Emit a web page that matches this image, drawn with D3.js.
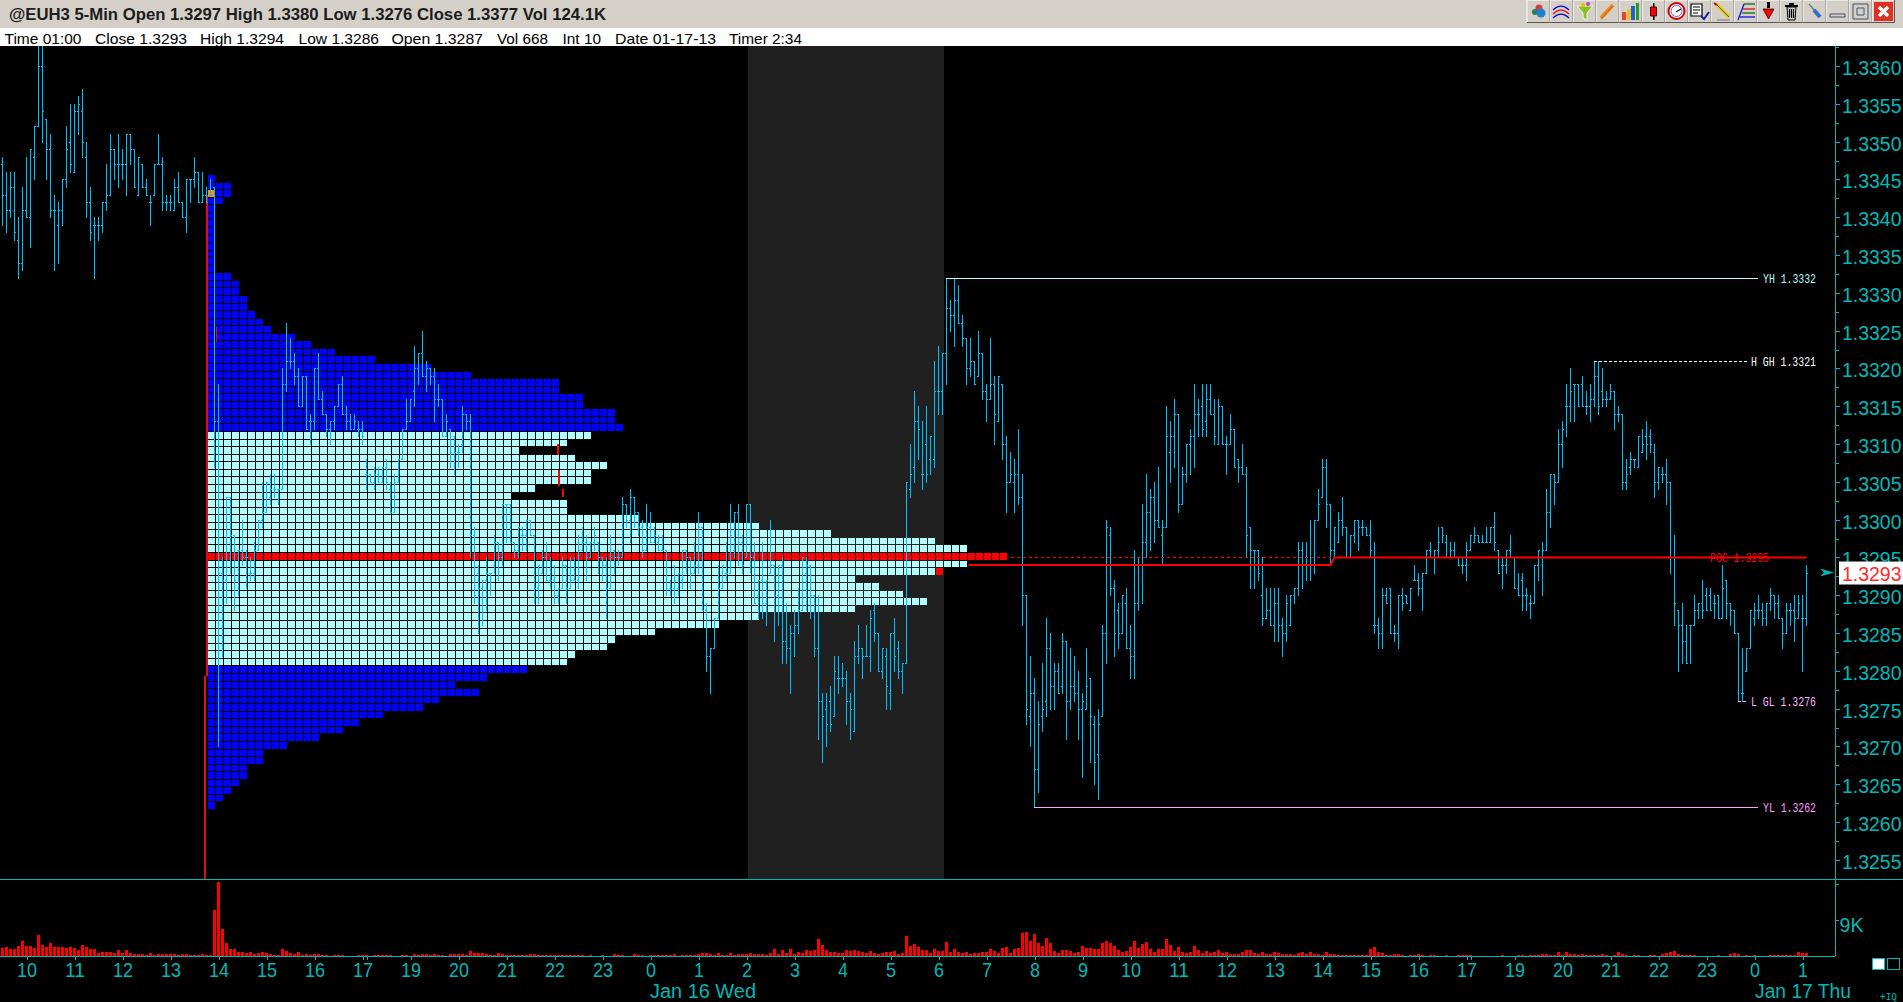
<!DOCTYPE html>
<html><head><meta charset="utf-8">
<style>html,body{margin:0;padding:0;background:#000;overflow:hidden}svg{display:block}</style>
<script src="https://cdn.jsdelivr.net/npm/d3@7"></script></head><body><svg id="c" width="1903" height="1002"></svg>
<script>
// Prices are stored as points above 1.3000 (348 = 1.3348); volumes in thousands of contracts.
const highs=[348,346,346,346,340,344,348,349,352,365,364,353,351,343,342,345,352,355,355,356,357,350,344,340,340,342,347,351,349,351,349,351,351,349,348,347,345,343,347,351,348,343,343,345,346,342,345,345,348,346,346,344,345,344,318,295,303,303,298,296,300,296,295,297,300,305,305,306,306,304,320,326,324,322,320,319,319,314,320,322,317,314,313,315,318,319,315,314,314,313,313,308,306,307,307,307,308,305,306,308,312,316,316,323,322,325,321,320,320,318,316,314,312,311,310,315,314,314,299,294,292,295,293,298,297,302,302,302,297,299,299,300,300,298,294,296,297,295,294,291,295,294,295,295,298,299,298,297,299,297,295,295,298,296,296,303,302,304,303,301,300,302,301,299,298,298,296,292,294,293,296,296,295,297,301,299,289,283,287,294,294,297,302,301,302,298,302,302,297,292,297,292,300,294,294,295,289,286,288,291,295,295,294,290,290,277,277,278,282,282,281,280,277,284,286,283,286,288,289,285,283,283,285,287,284,281,305,310,317,315,313,315,311,321,323,322,332,329,332,331,327,324,324,321,325,322,318,324,319,319,318,311,309,308,312,306,290,282,279,276,281,287,285,281,281,285,284,283,282,280,277,283,279,274,275,286,300,299,292,289,290,291,286,296,295,302,306,304,305,307,300,315,313,316,314,307,310,312,318,316,318,318,318,316,316,315,311,314,312,308,310,307,299,296,296,295,291,291,291,291,287,290,290,291,297,297,297,300,300,304,308,308,302,299,301,303,299,298,300,300,300,299,300,297,287,291,291,291,286,290,291,290,291,294,293,293,296,297,296,299,299,298,297,297,295,295,297,298,299,298,298,299,299,301,296,295,296,298,295,293,293,291,290,294,296,297,304,306,306,312,313,318,320,318,318,319,317,318,321,321,320,317,318,317,315,314,308,309,308,311,312,313,312,310,307,307,308,305,298,288,289,286,286,290,289,292,291,291,290,290,294,292,289,288,285,283,283,288,289,290,289,289,291,290,290,287,289,289,290,290,290,294];
const lows=[339,338,340,337,332,333,340,336,345,352,350,345,340,333,334,339,344,346,346,351,348,340,337,332,337,338,341,343,345,344,345,343,347,344,343,344,343,339,343,347,341,341,341,341,342,340,338,342,344,342,342,342,343,307,270,282,289,293,288,290,294,291,292,292,296,299,301,302,303,302,304,317,320,318,315,315,312,310,312,316,314,311,310,312,315,314,312,312,312,311,310,304,305,304,305,305,304,301,301,305,308,312,313,315,318,319,317,318,313,315,311,311,307,306,307,309,312,295,289,285,286,288,290,293,292,294,297,297,295,295,296,296,298,289,289,293,292,291,289,289,291,289,291,292,291,296,292,295,296,293,292,287,291,293,294,295,299,297,299,298,295,296,297,297,296,296,290,290,289,290,291,293,291,293,293,288,280,277,283,287,291,292,293,295,294,293,295,293,289,287,287,286,293,284,286,281,281,277,282,285,288,288,287,282,271,268,270,272,274,277,278,273,271,272,281,279,282,280,284,280,279,275,275,280,279,277,281,303,305,308,304,305,306,307,314,314,318,325,323,326,323,318,319,318,319,316,313,316,310,313,308,301,305,301,302,286,273,270,262,264,272,274,275,275,277,277,271,275,276,271,266,275,268,265,263,274,281,290,282,283,285,283,279,279,288,289,295,296,297,299,294,299,305,307,301,302,305,306,307,311,311,311,314,310,310,310,306,310,307,305,306,295,291,291,292,286,287,286,284,284,282,284,286,289,290,291,292,292,293,300,303,299,294,295,297,298,295,295,297,296,298,298,295,285,283,283,289,285,284,283,288,289,288,292,290,288,293,295,293,295,297,295,295,295,294,293,292,296,297,297,297,297,297,296,293,291,293,295,291,290,288,288,287,289,292,290,296,299,302,305,307,311,313,313,315,315,314,313,315,314,315,315,316,312,313,304,304,306,307,307,309,308,309,303,304,305,302,293,286,280,281,281,281,286,287,287,288,288,287,287,287,287,286,285,276,276,280,283,286,287,286,286,288,287,287,283,285,286,284,287,280,286];
const opens=[347,343,341,344,337,334,341,340,348,352,360,353,349,341,339,341,345,350,346,354,354,348,342,339,339,339,342,343,349,347,347,347,351,349,343,347,344,342,343,347,347,342,342,341,344,342,340,345,345,346,342,343,343,344,313,293,292,303,298,296,296,295,293,293,296,300,301,303,304,304,304,318,321,321,319,315,319,313,313,320,316,314,312,313,315,318,314,313,312,312,312,306,306,305,306,305,307,304,301,305,308,312,313,317,320,322,319,320,319,316,316,311,312,311,309,310,314,313,298,293,291,292,293,294,297,295,302,302,297,296,298,298,300,298,291,293,295,292,292,290,291,294,291,292,292,296,297,295,297,297,295,294,291,296,295,295,302,300,303,301,299,296,299,297,297,296,296,291,291,291,292,296,295,293,294,299,288,282,283,287,291,293,293,296,301,297,295,302,295,290,292,289,293,294,290,294,284,283,285,286,288,293,294,290,283,276,275,276,274,279,279,279,276,272,282,283,282,282,288,285,280,282,277,285,283,280,281,304,307,313,306,310,308,308,317,317,322,328,327,329,326,324,320,321,319,322,317,316,318,313,318,310,305,305,306,303,290,274,277,267,274,276,283,278,280,278,284,276,278,277,275,275,279,273,269,274,285,298,291,288,285,289,283,282,289,294,297,301,303,300,298,299,309,311,314,302,306,310,311,314,315,313,316,314,310,315,310,310,312,308,307,306,299,296,296,290,287,288,286,289,286,285,286,290,291,296,294,294,295,300,303,307,302,296,297,300,299,295,298,300,299,299,298,286,286,285,290,291,285,285,290,290,288,292,292,291,293,296,295,296,299,297,295,296,295,294,294,296,297,298,297,297,297,299,296,294,294,296,295,291,292,290,289,289,294,295,296,301,306,305,310,315,315,318,318,318,315,315,316,319,317,316,316,317,314,314,305,307,308,307,309,311,311,309,305,306,306,305,295,288,286,284,286,286,288,289,290,290,289,290,287,292,289,288,285,277,280,283,287,288,288,287,289,290,289,287,285,288,288,287,287,287];
const closes=[343,341,344,338,334,341,340,349,352,360,354,349,341,341,341,345,349,347,354,355,350,342,338,339,339,342,343,349,347,347,347,351,349,344,348,344,343,342,347,347,342,342,342,344,342,340,345,345,346,342,343,342,343,313,293,292,303,298,292,296,295,295,293,296,300,301,305,304,304,304,318,321,321,319,315,319,312,313,320,316,314,312,313,315,318,314,313,312,313,312,311,306,305,306,305,307,305,301,305,308,312,313,316,320,322,319,320,319,316,316,311,313,309,309,309,314,313,298,290,291,292,293,293,297,295,302,302,297,296,299,298,300,298,291,294,295,292,292,290,291,294,291,292,292,296,297,295,297,298,295,294,291,295,295,295,302,300,303,301,299,296,299,297,298,296,296,291,291,292,293,296,295,293,294,299,288,282,283,287,291,294,293,298,301,297,294,302,295,289,292,289,292,294,290,294,284,283,285,286,288,295,294,290,283,276,274,273,273,280,279,279,276,275,282,283,282,282,287,285,280,283,278,285,282,280,281,305,306,313,312,306,306,311,317,317,322,328,327,329,326,324,320,321,318,322,317,316,318,314,319,310,305,306,306,303,290,275,277,267,273,275,283,278,280,277,284,276,278,277,275,276,278,274,268,273,285,299,291,285,285,290,283,282,289,294,297,301,303,300,299,299,311,311,314,302,306,310,311,314,314,312,316,314,311,315,310,310,312,307,307,306,298,296,296,293,287,288,286,289,286,285,289,290,291,296,294,294,295,300,302,307,302,296,299,300,299,295,298,300,299,299,298,296,286,285,290,289,285,285,290,289,289,291,292,291,293,296,295,296,297,298,295,296,295,294,294,296,298,298,297,297,297,299,297,293,294,296,295,291,290,290,290,289,294,296,296,301,306,305,310,312,315,317,318,315,315,315,316,319,315,316,316,317,314,314,305,306,308,308,311,310,310,310,305,307,306,305,295,289,286,284,281,286,288,289,288,288,288,289,287,291,289,288,285,276,277,283,288,288,288,287,289,290,289,287,285,288,288,287,289,287,293];
const volumes=[2,2.25,1.75,1.75,2.5,3.75,2.5,2.5,2,5.25,2.75,2.25,3.25,2.25,2.25,2.25,2,2.25,2,1.5,2.75,2.25,1.75,1.75,.75,1,1,1,.75,1.5,.75,1.5,.75,.5,.5,.5,.25,.75,.25,.5,.5,.5,.5,.5,.25,.5,.5,.25,.25,.25,.5,.25,.25,11.5,18.5,6.75,3.25,1.75,1.75,1,1,.75,1,.5,.75,1,.75,.5,.25,.25,1.75,1.25,.75,.5,1,.25,.5,.25,.5,.5,.25,.25,0,.25,.25,.25,0,0,0,.25,.25,.25,0,.25,.25,.25,.25,.25,0,0,.25,.25,0,.5,.25,.5,.5,.25,.5,.25,.25,0,.5,.5,.5,.5,.25,1.25,.75,.75,.75,.5,.25,.25,.75,.5,.25,.25,.25,.25,.25,.25,.5,.5,.25,.25,.25,.25,.25,.25,.25,.25,.25,.25,.25,.25,0,.25,0,0,.25,0,0,.5,.25,.25,0,0,.5,.25,.25,0,.25,.25,.25,.25,.25,.25,.5,0,.25,.25,.25,.25,.5,.75,.75,.5,.25,.75,.25,.25,.75,.25,.5,.5,.5,.75,.5,.5,.5,.25,.75,1.75,.5,1.5,.75,1.75,.5,1,.75,1.5,1.25,1.5,4.25,2.75,1.5,1,1,.75,.75,1.5,1.25,1.5,1.25,1,.75,1.25,.75,.5,.75,1,1,1.25,.5,.75,5,2.5,3,2.25,1.5,1.5,.75,1.75,1.25,1.25,3.5,1,1.75,1,.75,1,.5,.75,.75,1,1,1.75,1.25,.75,2,2.25,.75,1.75,2,5.75,6,3.75,5.5,3.25,2.5,4.5,3.25,1.25,.75,1.5,1.5,1.25,.75,1,2.5,2,2,1.75,1.75,3.25,3.75,3.25,2.5,1.5,1,1.25,2.25,3.75,2,3,3.5,1.75,1,1.75,1.75,4.25,2.75,1.25,2.25,1,.75,1,2.5,1.5,.75,1.25,.75,1,1.5,.75,1,.5,.5,.5,1,1.5,1.5,.75,.5,1,.5,.5,1,.75,.5,.5,.5,.25,.75,1,.5,1,.5,.5,.25,1,.5,.5,.25,.25,.25,.25,.25,.25,.25,.25,1.75,2.25,1,.75,.25,.25,.5,.5,.25,0,.25,.25,.5,.25,0,.25,.25,0,0,.25,0,0,.25,.25,.25,.25,0,0,0,0,0,0,0,.25,0,0,0,.25,.25,0,.25,.25,.25,.5,.5,.25,.25,1,.25,1,.5,.5,.25,.5,.25,.25,.25,.25,.5,.25,0,.25,1,.5,.25,0,.25,.25,0,0,.25,.25,0,.5,.75,1,1.25,.5,.25,.25,.25,.25,0,0,0,0,0,.25,0,0,.5,.75,.5,0,.25,0,.25,0,0,0,.25,.25,.25,.25,.25,.25,.25,1,.75,.75];

const profilePrices=[345,344,343,342,341,340,339,338,337,336,335,334,333,332,331,330,329,328,327,326,325,324,323,322,321,320,319,318,317,316,315,314,313,312,311,310,309,308,307,306,305,304,303,302,301,300,299,298,297,296,295,294,293,292,291,290,289,288,287,286,285,284,283,282,281,280,279,278,277,276,275,274,273,272,271,270,269,268,267,266,265,264,263,262];
const profileCounts=[1,3,3,2,1,1,1,1,1,1,1,1,1,3,4,4,5,5,6,7,8,11,13,16,21,28,33,44,44,47,47,51,51,52,48,45,39,46,50,48,48,41,38,45,45,54,69,78,91,95,100,95,92,81,84,87,90,81,69,64,56,51,50,46,45,40,35,31,34,29,27,22,19,17,14,10,7,7,5,5,4,3,2,1];
const valueAreaHigh=311, valueAreaLow=281, pocPrice=295;

const hourIndex=[6,18,30,42,54,66,78,90,91,102,114,126,138,150,162,174,186,198,210,222,234,246,258,270,282,294,306,318,330,342,354,366,367,378,390,402,414,426,438,450];
const hourLabels=["10","11","12","13","14","15","16","17","","19","20","21","22","23","0","1","2","3","4","5","6","7","8","9","10","11","12","13","14","15","16","17","","19","20","21","22","23","0","1"];
const priceLabels=[1.3360,1.3355,1.3350,1.3345,1.3340,1.3335,1.3330,1.3325,1.3320,1.3315,1.3310,1.3305,1.3300,1.3295,1.3290,1.3285,1.3280,1.3275,1.3270,1.3265,1.3260,1.3255];
const lastPrice=1.3293;
const titleText="@EUH3 5-Min Open 1.3297 High 1.3380 Low 1.3276 Close 1.3377 Vol 124.1K";
const infoItems=["Time 01:00","Close 1.3293","High 1.3294","Low 1.3286","Open 1.3287","Vol 668","Int 10","Date 01-17-13","Timer 2:34"];
const levelNames=["YH 1.3332","H GH 1.3321","L GL 1.3276","YL 1.3262"];
const levelPrices=[332,321,276,262];
const levelFrom=[236,398,434,258];
const levelTo=[439,436.4,436.4,439];
const levelColors=["#b4ffff","#ffffff","#ffb4ff","#ff9cff"];
const pocPathIndex=[241.5,332,333,451];
const pocPathPrice=[294,294,295,295];

const CYAN="#00bfff", TEAL="#00b8b8", RED="#ff0000", LIGHT="#b4ffff", BLUE="#0000ff";
const svg=d3.select("#c");
const px=t=>1.3+t/10000;
const x=d3.scaleLinear().domain([0,451]).range([2,1806]);
const y=d3.scaleLinear().domain([1.3360,1.3260]).range([66,822]);
const vy=d3.scaleLinear().domain([0,9]).range([956,920]);
const col=d3.scaleLinear().domain([0,100]).range([208,1008]);
const font="'Liberation Sans',Arial,sans-serif";

svg.append("rect").attr("width",1903).attr("height",1002).attr("fill","#000");
// title bars
svg.append("rect").attr("width",1903).attr("height",28).attr("fill","#d4d0c8");
svg.append("rect").attr("y",28).attr("width",1903).attr("height",18).attr("fill","#fff");
svg.append("text").attr("x",9).attr("y",20).attr("font-family",font).attr("font-size",16).attr("font-weight","bold").attr("fill","#1c1c1c").attr("textLength",597).attr("lengthAdjust","spacingAndGlyphs").text(titleText);
const infoX=[4.5,95,200,298.5,391.5,497,562.5,615,729], infoW=[77,92,84,80.5,91.5,51,38.5,101,73];
svg.selectAll("text.info").data(infoItems).join("text").attr("class","info").attr("x",(d,i)=>infoX[i]).attr("y",43.5).attr("font-family",font).attr("font-size",15).attr("fill","#000").attr("textLength",(d,i)=>infoW[i]).attr("lengthAdjust","spacingAndGlyphs").text(d=>d);

// toolbar
const btn=svg.append("g");
d3.range(16).forEach(i=>{const b=btn.append("g").attr("transform",`translate(${1527+23*i},0)`);
 b.append("rect").attr("width",23).attr("height",23).attr("fill","#d4d0c8");
 b.append("path").attr("d","M0 22V0H22").attr("stroke","#fff").attr("fill","none");
 b.append("path").attr("d","M22.5 0V22.5H0").attr("stroke","#555").attr("fill","none");
 const L=(d,c,w=1.2,f="none")=>b.append("path").attr("d",d).attr("stroke",c).attr("stroke-width",w).attr("fill",f);
 const R=(a,t,w,h,c)=>b.append("rect").attr("x",a).attr("y",t).attr("width",w).attr("height",h).attr("fill",c);
 const C=(a,t,r,c,s="none",w=1)=>b.append("circle").attr("cx",a).attr("cy",t).attr("r",r).attr("fill",c).attr("stroke",s).attr("stroke-width",w);
 if(i==0){C(8,12,3,"#2a7a5a");C(12,8,3.5,"#d04040");C(14,13,4.5,"#2080d0");}
 if(i==1){L("M3 10Q11 2 19 10","#0000e0");L("M3 14Q11 6 19 14","#e01010");L("M3 18Q11 10 19 18","#0000e0");}
 if(i==2){L("M4 6H20L14 13V20L10 18V13Z","#e8f8e8",1,"#90c020");C(10,5,2,"#e0c000");C(15,4,2,"#c040c0");}
 if(i==3){L("M5 18L17 5","#f08820",4);L("M5 19L17 6","#a04000",.6);L("M4 20H12","#bbb",1);}
 if(i==4){R(3,12,4,8,"#f04030");R(8,9,4,11,"#f0c020");R(12,6,4,14,"#2060d0");R(17,3,3,17,"#20a020");}
 if(i==5){R(11,3,1.5,17,"#000");R(8.5,7,6,9,"#ff0000");L("M8.5 7h6v9h-6z","#000",.8);}
 if(i==6){C(11.5,11,8,"#fff","#d00000",2);C(11.5,11,5.5,"#fff","#0000c0",.6);L("M11 12L16 9","#000",1.2);}
 if(i==7){R(3,4,11,12,"#fff");L("M3 4h11v12h-11z","#000");L("M5 7h7M5 10h7M5 13h5","#000");L("M13 16l3 3 5-7","#1020a0",2);}
 if(i==8){L("M5 4L18 17","#e8d020",4);L("M5 4L18 17","#000",.6);L("M3 3L6 5","#c00000",2);L("M6 20H19","#888");}
 if(i==9){L("M4 20L10 4","#0000e0");L("M10 4H21","#006000");L("M9 9H21","#d00000");L("M8 13H21","#006000");L("M6 17H21","#0000e0");}
 if(i==10){R(10,2,3,6,"#000");L("M6 9H17L11.5 19Z","#000",.7,"#ff0000");}
 if(i==11){L("M7 7H16L15 20H8Z","#000",1,"#ccc");R(5,5,13,2,"#000");R(9,3,5,2,"#000");L("M9.5 9V18M11.5 9V18M13.5 9V18","#000");}
 if(i==12){L("M6 4L12 11","#708090",1.6);L("M11 10L17 17","#3070d0",4);}
 if(i==13){L("M4 14H19V17H4Z","#405070",1,"#d4d0c8");}
 if(i==14){L("M4 4H19V19H4Z","#405070",1);L("M8 8H15V15H8Z","#405070",1);}
 if(i==15){R(2,2,19,19,"#e03020");L("M7 7L16 16M16 7L7 16","#fff",3.5);}
});

const chart=svg.append("g");
const clip=svg.append("clipPath").attr("id","plot").append("rect").attr("x",0).attr("y",46).attr("width",1835).attr("height",833);
// overnight shaded band (2:00 to 6:00 hours)
chart.append("rect").attr("x",x(186.5)).attr("y",46).attr("width",x(235.5)-x(186.5)).attr("height",833).attr("fill","#202020");

// volume profile
const cells=[];
profilePrices.forEach((p,i)=>d3.range(profileCounts[i]).forEach(k=>cells.push({p,k,last:k==profileCounts[i]-1})));
chart.append("g").selectAll("rect").data(cells).join("rect")
 .attr("x",d=>col(d.k)).attr("width",7).attr("y",d=>Math.round(y(px(d.p))-4.4)).attr("height",d=>Math.round(y(px(d.p))-4.4+7.56)-Math.round(y(px(d.p))-4.4)-1)
 .attr("shape-rendering","crispEdges")
 .attr("fill",d=>{
   if(d.p==pocPrice) return RED;
   if(d.p==293&&d.last) return RED;
   if(d.p==343&&d.k==0) return "#ff8c1a";
   return d.p<=valueAreaHigh&&d.p>=valueAreaLow?LIGHT:BLUE;});

// red marker lines on the profile
const markCol=[1,43.6,43.8,44.2], markHi=[325.5,310,306.5,304], markLo=[323.5,308.5,304.5,303];
chart.append("g").selectAll("rect").data(markCol).join("rect").attr("x",d=>col(d)).attr("width",(d,i)=>i?2:1).attr("y",(d,i)=>y(px(markHi[i]))).attr("height",(d,i)=>y(px(markLo[i]))-y(px(markHi[i]))).attr("fill",RED).attr("shape-rendering","crispEdges");
// session open vertical
chart.append("rect").attr("x",205.5).attr("y",y(px(343))).attr("width",2).attr("height",676-y(px(343))).attr("fill","#e01010").attr("shape-rendering","crispEdges");
chart.append("rect").attr("x",204).attr("y",676).attr("width",2).attr("height",203).attr("fill","#e01010").attr("shape-rendering","crispEdges");

// OHLC bars
const bars=chart.append("g").attr("clip-path","url(#plot)").attr("fill",CYAN).attr("shape-rendering","crispEdges");
bars.selectAll("path").data(highs).join("path").attr("d",(h,i)=>{
 const X=Math.round(x(i)),t=Math.round(y(px(h))),b=Math.round(y(px(lows[i]))),o=Math.round(y(px(opens[i]))),c=Math.round(y(px(closes[i])));
 return `M${X} ${t}h1v${b-t+1}h-1zM${X-1} ${o}h1v1h-1zM${X+1} ${c}h1v1h-1z`;});

// volume
chart.append("g").attr("shape-rendering","crispEdges").selectAll("rect").data(volumes).join("rect")
 .attr("x",(d,i)=>Math.round(x(i))-1).attr("width",3).attr("y",d=>vy(d)).attr("height",d=>956-vy(d)).attr("fill",RED);

// labels for POC under its line
const mono="'Liberation Mono','DejaVu Sans Mono',monospace";
chart.append("text").attr("x",1710).attr("y",y(px(295))+5).attr("font-family",mono).attr("font-size",13).attr("fill",RED).attr("textLength",59).attr("lengthAdjust","spacingAndGlyphs").text("POC 1.3295");
// POC lines
const line=d3.line().x(d=>x(d[0])+.5).y(d=>y(px(d[1])));
chart.append("path").attr("d",line(pocPathIndex.map((d,i)=>[d,pocPathPrice[i]]))).attr("fill","none").attr("stroke",RED).attr("stroke-width",2);
chart.append("path").attr("d",line([[252,295],[332,295]])).attr("fill","none").attr("stroke",RED).attr("stroke-width",1).attr("stroke-dasharray","3 3").attr("shape-rendering","crispEdges");
// levels
levelNames.forEach((n,i)=>{
 const Y=Math.round(y(px(levelPrices[i])))+.5;
 chart.append("line").attr("x1",x(levelFrom[i])).attr("x2",x(levelTo[i])).attr("y1",Y).attr("y2",Y).attr("stroke",levelColors[i]).attr("stroke-dasharray",(i==1||i==2)?"3 2":null).attr("shape-rendering","crispEdges");
 const tx=(i==1||i==2)?1751:1763;
 chart.append("text").attr("x",tx).attr("y",Y+4.5).attr("font-family",mono).attr("font-size",13).attr("fill",levelColors[i]).attr("textLength",(i==1||i==2)?65:53).attr("lengthAdjust","spacingAndGlyphs").text(n);
});

// axes
const fmt=d=>d.toFixed(4);
const yAxis=d3.axisRight(y).tickValues(priceLabels).tickSize(4).tickFormat(fmt);
const ga=svg.append("g").attr("transform","translate(1835.5,0)").call(yAxis);
ga.select(".domain").remove();
ga.selectAll("line").attr("stroke",TEAL).attr("shape-rendering","crispEdges");
ga.selectAll("text").attr("x",6.5).attr("dy","0.42em").attr("font-family",font).attr("font-size",20).attr("fill",TEAL).attr("textLength",59.5).attr("lengthAdjust","spacingAndGlyphs").attr("text-anchor","start");
const minor=priceLabels.map(p=>p+0.00025);
const gm=svg.append("g").attr("transform","translate(1835.5,0)").call(d3.axisRight(y).tickValues(minor).tickSize(3).tickFormat(""));
gm.select(".domain").remove();
gm.selectAll("line").attr("stroke",TEAL).attr("shape-rendering","crispEdges");

const xAxis=d3.axisBottom(x).tickValues(hourIndex).tickSize(4).tickFormat((d,i)=>hourLabels[i]);
const gx=svg.append("g").attr("transform","translate(0.5,956)").call(xAxis);
gx.select(".domain").remove();
gx.selectAll("line").attr("stroke",TEAL).attr("shape-rendering","crispEdges");
gx.selectAll("text").attr("y",21).attr("dy",0).attr("font-family",font).attr("font-size",21).attr("fill",TEAL).each(function(d,i){const n=hourLabels[i].length;if(n)d3.select(this).attr("textLength",n*10).attr("lengthAdjust","spacingAndGlyphs");});

const vAxis=d3.axisRight(vy).tickValues([9,18]).tickSize(3).tickFormat(d=>d==9?"9K":"");
const gv=svg.append("g").attr("transform","translate(1835.5,0)").call(vAxis);
gv.select(".domain").remove();
gv.selectAll("line").attr("stroke",TEAL).attr("shape-rendering","crispEdges");
gv.selectAll("text").attr("x",4).attr("y",11).attr("dy",0).attr("font-family",font).attr("font-size",21).attr("fill",TEAL).attr("textLength",24).attr("lengthAdjust","spacingAndGlyphs").attr("text-anchor","start");

// frame lines
const frame=svg.append("g").attr("stroke",TEAL).attr("shape-rendering","crispEdges");
frame.append("line").attr("x1",1835.5).attr("x2",1835.5).attr("y1",46).attr("y2",956);
frame.append("line").attr("x1",0).attr("x2",1903).attr("y1",879.5).attr("y2",879.5);
frame.append("line").attr("x1",0).attr("x2",1835).attr("y1",956.5).attr("y2",956.5);

// current price flag
const yl=y(lastPrice);
svg.append("rect").attr("x",1839).attr("y",yl-11).attr("width",64).attr("height",23).attr("fill","#fff");
svg.append("text").attr("x",1842).attr("y",yl+8).attr("font-family",font).attr("font-size",20).attr("fill","#ff2a2a").attr("textLength",59.5).attr("lengthAdjust","spacingAndGlyphs").text(fmt(lastPrice));
svg.append("path").attr("d",`M1820 ${yl-4}L1834 ${yl}L1820 ${yl+4}L1824 ${yl}Z`).attr("fill",TEAL);

// date labels and corner furniture
const dateLabels=["Jan 16 Wed","Jan 17 Thu"], dateX=[650,1755], dateW=[106,96];
svg.selectAll("text.date").data(dateLabels).join("text").attr("class","date").attr("x",(d,i)=>dateX[i]).attr("y",998).attr("font-family",font).attr("font-size",20).attr("fill",TEAL).attr("textLength",(d,i)=>dateW[i]).attr("lengthAdjust","spacingAndGlyphs").text(d=>d);
svg.append("rect").attr("x",1872).attr("y",958).attr("width",12).attr("height",11).attr("fill","#fff").attr("stroke",TEAL).attr("shape-rendering","crispEdges");
svg.append("rect").attr("x",1887).attr("y",958).attr("width",12).attr("height",11).attr("fill","#000").attr("stroke",TEAL).attr("shape-rendering","crispEdges");
svg.append("text").attr("x",1880).attr("y",1000).attr("font-family",mono).attr("font-size",10).attr("fill",TEAL).attr("textLength",17).attr("lengthAdjust","spacingAndGlyphs").text("+IQ");
</script></body></html>
